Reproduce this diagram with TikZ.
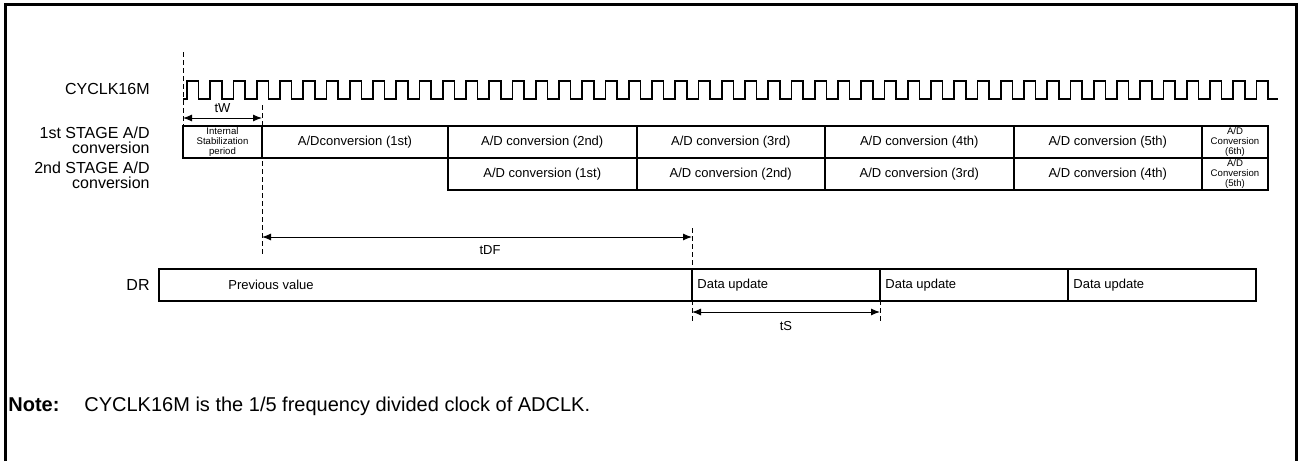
\documentclass[tikz,border=0pt]{standalone}
\usepackage{fontspec}
\setmainfont{Liberation Sans}
\usetikzlibrary{arrows.meta}

\begin{document}
\begin{tikzpicture}[x=0.5pt,y=-0.5pt,
  wire/.style={line width=1pt},
  guide/.style={line width=0.5pt,dash pattern=on 2.5pt off 1.5pt},
  dim/.style={line width=0.5pt,{Latex[length=4.5pt,width=3.5pt]}-{Latex[length=4.5pt,width=3.5pt]}},
  lbl/.style={font=\fontsize{8}{7.5}\selectfont,align=right,anchor=east,inner sep=0pt},
  cell/.style={font=\fontsize{6.5}{7.5}\selectfont,inner sep=0pt},
  small/.style={font=\fontsize{4.8}{5.2}\selectfont,align=center,inner sep=0pt}]
\useasboundingbox (0,0) rectangle (1300,461);
\draw[line width=1.5pt] (5,461) -- (5,4) -- (1296,4) -- (1296,461);

% clock
\node[lbl] (clk) at (150,89) {CYCLK16M};
\draw[line width=0.8pt] (183,99) \foreach \i in {0,...,46}{
  -- ({187+23.25*\i},99) -- ({187+23.25*\i},81) -- ({198.6+23.25*\i},81) -- ({198.6+23.25*\i},99)}
  -- (1278,99);

% guide lines
\coordinate (w0) at (183,118);
\coordinate (w1) at (262,118);
\coordinate (f0) at (262,237);
\coordinate (f1) at (692,237);
\coordinate (s0) at (692,312);
\coordinate (s1) at (880,312);
\draw[guide] (183,52) -- (183,126);
\draw[guide] (262,105) -- (262,257);
\draw[guide] (692,228) -- (692,322);
\draw[guide] (880,300) -- (880,322);

% A/D stages
\node[lbl] (st1) at (150,140) {1st STAGE A/D\\conversion};
\node[lbl] (st2) at (150,175) {2nd STAGE A/D\\conversion};
\draw[wire] (183,126) rectangle (1268,158);
\draw[wire] (448,158) rectangle (1268,190);
\draw[wire] (262,126) -- (262,158);
\foreach \x in {448,636.5,825,1013.5,1202}
  \draw[wire] (\x,126) -- (\x,190);
\node[small] (stab) at (222.5,142) {Internal\\Stabilization\\period};
\node[cell] (c11) at (355,142) {A/Dconversion (1st)};
\node[cell] (c12) at (542.25,142) {A/D conversion (2nd)};
\node[cell] (c13) at (730.75,142) {A/D conversion (3rd)};
\node[cell] (c14) at (919.25,142) {A/D conversion (4th)};
\node[cell] (c15) at (1107.75,142) {A/D conversion (5th)};
\node[small] (c16) at (1235,142) {A/D\\Conversion\\(6th)};
\node[cell] (c21) at (542.25,174) {A/D conversion (1st)};
\node[cell] (c22) at (730.75,174) {A/D conversion (2nd)};
\node[cell] (c23) at (919.25,174) {A/D conversion (3rd)};
\node[cell] (c24) at (1107.75,174) {A/D conversion (4th)};
\node[small] (c25) at (1235,174) {A/D\\Conversion\\(5th)};

% timing arrows
\draw[dim] (w0) -- (w1);
\node[cell] (tw) at (222.5,108) {tW};
\draw[dim] (f0) -- (f1);
\node[cell] (tdf) at (490,250) {tDF};
\draw[dim] (s0) -- (s1);
\node[cell] (ts) at (786,326) {tS};

% DR
\node[lbl] (dr) at (150,285) {DR};
\draw[wire] (159,269) rectangle (1256,301);
\foreach \x in {692,880,1068}
  \draw[wire] (\x,269) -- (\x,301);
\node[cell] (prev) at (271,285) {Previous value};
\node[cell,anchor=west] (du1) at (697,285) {Data update};
\node[cell,anchor=west] (du2) at (885,285) {Data update};
\node[cell,anchor=west] (du3) at (1073,285) {Data update};

% note
\node[anchor=base west,inner sep=0pt,font=\fontsize{10}{12}\selectfont\bfseries] (nt) at (8,411) {Note:};
\node[anchor=base west,inner sep=0pt,font=\fontsize{10}{12}\selectfont] (ntx) at (84,411) {CYCLK16M is the 1/5 frequency divided clock of ADCLK.};
\end{tikzpicture}
\end{document}
